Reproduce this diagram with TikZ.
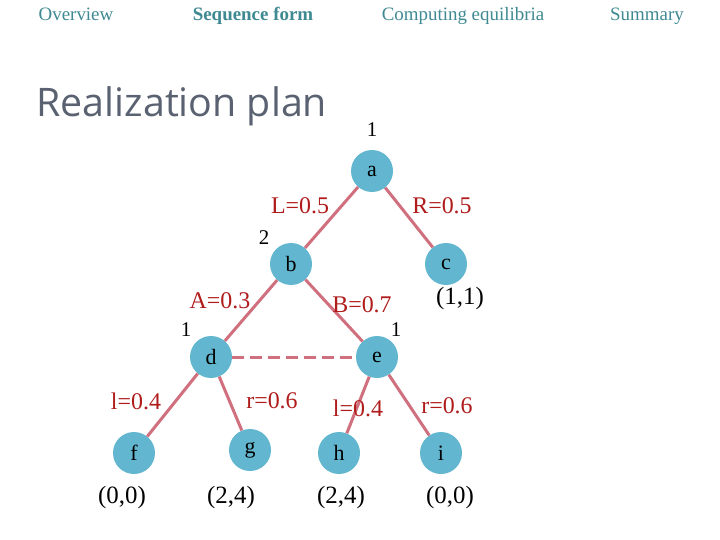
\documentclass[tikz,border=0pt]{standalone}
\usepackage{fontspec}
\setmainfont{Liberation Serif}
\setsansfont{Open Sans}
\usepackage{xcolor}
\usetikzlibrary{arrows.meta,positioning}
\definecolor{navteal}{HTML}{3F8A92}
\definecolor{titlegray}{HTML}{5A6272}
\definecolor{nodeblue}{HTML}{62B6CF}
\definecolor{edgepink}{HTML}{D0707F}
\definecolor{labred}{HTML}{B01C1C}

\begin{document}
\begin{tikzpicture}[x=1bp,y=-1bp,
nav/.style={text=navteal,anchor=base,font=\fontsize{19}{21}\selectfont},
dec/.style={circle,fill=nodeblue,minimum size=42bp,inner sep=0pt,font=\fontsize{22}{24}\selectfont},
ed/.style={draw=edgepink,line width=3bp},
prob/.style={text=labred,font=\fontsize{24}{26}\selectfont},
pl/.style={font=\fontsize{21}{23}\selectfont},
pay/.style={font=\fontsize{25}{27}\selectfont}]
\useasboundingbox[fill=white] (0,0) rectangle (720,540);
% header
\node[nav] (ov) at (76,21) {Overview};
\node[nav,font=\fontsize{19}{21}\selectfont\bfseries] (sf) at (253,21) {Sequence form};
\node[nav] (ce) at (463,21) {Computing equilibria};
\node[nav] (su) at (647,21) {Summary};
\node[text=titlegray,font=\sffamily\fontsize{39.5}{44}\selectfont,anchor=west] (title) at (33,106) {Realization plan};
% tree
\node[dec] (a) at (372,171) {a};
\node[dec] (b) at (291,264) {b};
\node[dec] (c) at (446,264) {c};
\node[dec] (d) at (211,357) {d};
\node[dec] (e) at (377,357) {e};
\node[dec] (f) at (134,453) {f};
\node[dec] (g) at (250,450) {g};
\node[dec] (h) at (339,453) {h};
\node[dec] (i) at (441,453) {i};
\draw[ed] (a)--(b); \draw[ed] (a)--(c);
\draw[ed] (b)--(d); \draw[ed] (b)--(e);
\draw[ed] (d)--(f); \draw[ed] (d)--(g);
\draw[ed] (e)--(h); \draw[ed] (e)--(i);
\draw[ed,dash pattern=on 12bp off 6bp] (d)--(e);
% players
\node[pl] (p1) at (372,130) {1};
\node[pl] (p2) at (264,238) {2};
\node[pl] (p3) at (186,330) {1};
\node[pl] (p4) at (396,330) {1};
% probabilities
\node[prob] (lL) at (300,206) {L=0.5};
\node[prob] (lR) at (442,206) {R=0.5};
\node[prob] (lA) at (220,301) {A=0.3};
\node[prob] (lB) at (362,305) {B=0.7};
\node[prob] (ll1) at (136,401) {l=0.4};
\node[prob] (lr1) at (272,401) {r=0.6};
\node[prob] (ll2) at (358,408) {l=0.4};
\node[prob] (lr2) at (447,406) {r=0.6};
% payoffs
\node[pay] (uc) at (460,299) {(1,1)};
\node[pay] (uf) at (122,498) {(0,0)};
\node[pay] (ug) at (231,498) {(2,4)};
\node[pay] (uh) at (341,498) {(2,4)};
\node[pay] (ui) at (450,498) {(0,0)};
\end{tikzpicture}
\end{document}
